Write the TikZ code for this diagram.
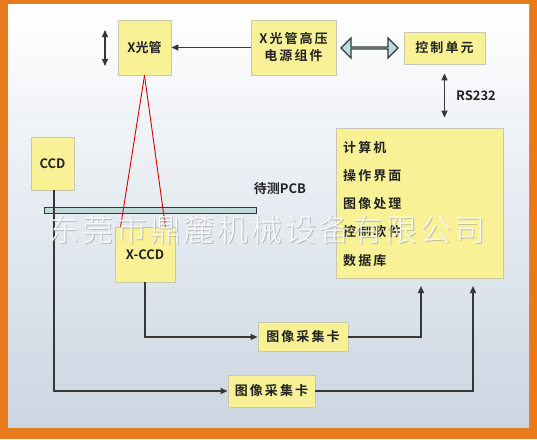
\documentclass[tikz,border=0pt]{standalone}
\usepackage{fontspec}
\setmainfont{Noto Sans CJK SC}[BoldFont=* Bold]
\newfontfamily\wmfont{Noto Sans CJK SC}[UprightFont=* Light]
\usetikzlibrary{arrows.meta,shapes.arrows}
\definecolor{frameorange}{RGB}{232,122,30}
\definecolor{boxyellow}{RGB}{248,241,150}
\definecolor{boxedge}{RGB}{200,200,175}
\definecolor{ink}{RGB}{35,35,35}
\definecolor{linegray}{RGB}{55,55,55}
\definecolor{pcbfill}{RGB}{190,218,214}
\definecolor{arrowblue}{RGB}{185,222,224}
\definecolor{panelbottom}{RGB}{203,214,226}
\begin{document}
\begin{tikzpicture}[x=1pt,y=-1pt,
  box/.style={draw=boxedge,fill=boxyellow,line width=0.8pt,inner sep=0pt,
    font=\bfseries\fontsize{13}{17}\selectfont,text=ink,align=center},
  lbl/.style={font=\bfseries\fontsize{13}{17}\selectfont,text=ink,inner sep=0pt},
  sp/.style={font=\bfseries\fontsize{13}{17}\selectfont\addfontfeatures{LetterSpace=16}},
  wmstyle/.style={font=\wmfont\fontsize{31}{31}\selectfont\addfontfeatures{LetterSpace=9},inner sep=0pt},
  arr/.style={draw=linegray,line width=1.4pt,-{Triangle[length=7pt,width=6pt]}},
  dbl/.style={draw=linegray,line width=1.4pt,{Triangle[length=7pt,width=6pt]}-{Triangle[length=7pt,width=6pt]}},
  ray/.style={draw=red!85!black,line width=0.9pt}]
\useasboundingbox (0,0) rectangle (537,439);
\fill[frameorange] (0,0) rectangle (537,439);
\shade[top color=white,bottom color=panelbottom] (8,4) rectangle (529,427);

% boxes
\node[box,minimum width=53pt,minimum height=55pt] (xtube) at (144.5,47.5) {X光管};
\node[box,minimum width=85pt,minimum height=55pt,sp] (power) at (293.5,47.5) {X光管高压\\电源组件};
\node[box,minimum width=81pt,minimum height=32pt,sp] (ctrl) at (444.5,48) {控制单元};
\node[box,minimum width=167pt,minimum height=150pt] (pc) at (419.5,203) {};
\node[lbl,sp,anchor=west] (pc1) at (343,148) {计算机};
\node[lbl,sp,anchor=west] (pc2) at (343,176) {操作界面};
\node[lbl,sp,anchor=west] (pc3) at (343,204) {图像处理};
\node[lbl,sp,anchor=west] (pc4) at (343,232) {控制软件};
\node[lbl,sp,anchor=west] (pc5) at (343,261) {数据库};
\node[box,minimum width=43pt,minimum height=53pt] (ccd) at (52.5,163.5) {CCD};
\node[draw=linegray,fill=pcbfill,line width=1pt,minimum width=212pt,minimum height=6pt,inner sep=0pt] (pcb) at (150,210) {};
\node[lbl] (pcblabel) at (280,189) {待测PCB};
\node[box,minimum width=60pt,minimum height=55pt] (xccd) at (145,254.5) {X-CCD};
\node[box,minimum width=90pt,minimum height=29pt,sp] (card1) at (303,337) {图像采集卡};
\node[box,minimum width=87pt,minimum height=32pt,sp] (card2) at (271.5,391) {图像采集卡};
\node[lbl] (rs) at (476,96) {RS232};

% connectors
\coordinate (ud1) at (105,30);
\coordinate (ud2) at (105,66);
\draw[dbl] (ud1) -- (ud2);
\draw[arr] (power.west) -- (xtube.east);
\node[double arrow,draw=linegray,fill=arrowblue,line width=1.2pt,minimum width=20pt,
  double arrow head extend=6pt,minimum height=57pt,inner sep=0pt] (fat) at (369.5,48) {};
\draw[dbl,shorten <=9pt,shorten >=10pt] (ctrl.south) -- (ctrl.south |- pc.north);
\draw[ray] (xtube.south) -- ([xshift=6pt]xccd.north west);
\draw[ray] (xtube.south) -- ([xshift=-10pt]xccd.north east);
\draw[arr] (xccd.south) |- (card1.west);
\draw[arr] ([xshift=1.5pt]ccd.south) |- (card2.west);
\coordinate (c1) at (421,286);
\coordinate (c2) at (473,286);
\draw[arr] (card1.east) -| (c1);
\draw[arr] (card2.east) -| (c2);

% watermark (on top)
\node[wmstyle,text=black!45,opacity=0.5] (wm0) at (268,231) {东莞市鼎麓机械设备有限公司};
\node[wmstyle,text=white,opacity=0.9] (wm) at (267,230) {东莞市鼎麓机械设备有限公司};
\end{tikzpicture}
\end{document}
